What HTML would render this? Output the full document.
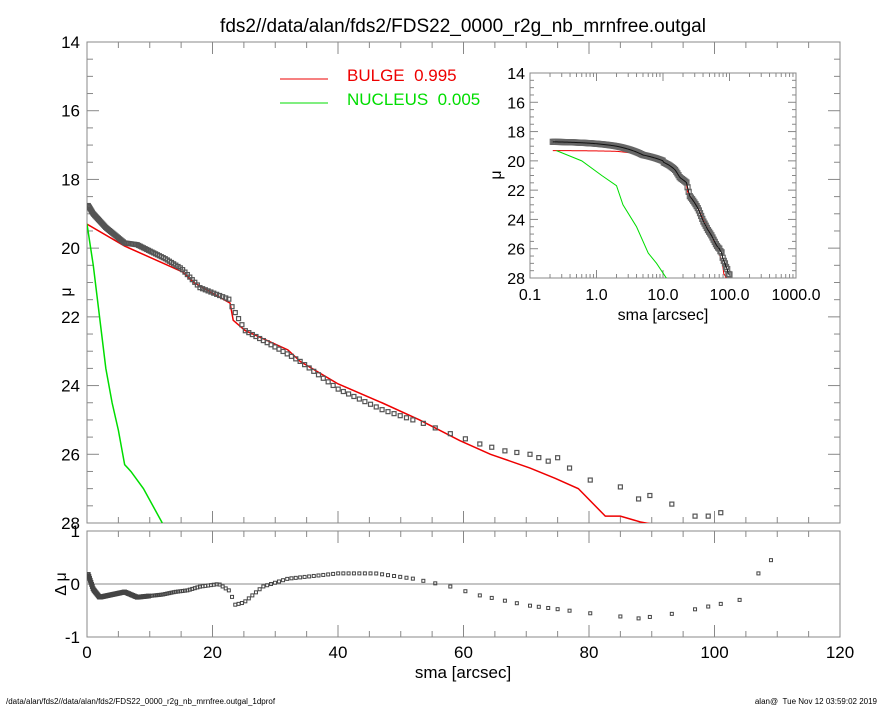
<!DOCTYPE html>
<html><head><meta charset="utf-8"><style>
body{margin:0;background:#fff}
svg{display:block;font-family:"Liberation Sans",sans-serif}
</style></head><body>
<svg id="s" width="885" height="708" viewBox="0 0 885 708" xmlns="http://www.w3.org/2000/svg"></svg>
<script>
const S=document.getElementById('s');let h='';
function add(x){h+=x;}
function interp(pts,x){if(x<=pts[0][0])return pts[0][1];for(let i=1;i<pts.length;i++){if(x<=pts[i][0]){const a=pts[i-1],b=pts[i];return a[1]+(b[1]-a[1])*(x-a[0])/(b[0]-a[0]);}}const a=pts[pts.length-2],b=pts[pts.length-1];return b[1]+(b[1]-a[1])*(x-b[0])/(b[0]-a[0]);}
const red=[[0,19.3],[6,19.94],[13.5,20.55],[15.3,20.7],[17,21.0],[22.8,21.6],[23.3,22.1],[25.2,22.4],[32,22.96],[34,23.3],[40,23.95],[47,24.5],[53,25.0],[59.4,25.6],[64.3,26.0],[70.6,26.4],[74.6,26.7],[78.3,27.0],[82.6,27.8],[85,27.8],[88.2,27.97],[92,28.1]];
const dat=[[0,18.7],[1,19.0],[3,19.4],[6,19.85],[8,19.9],[12.4,20.3],[15.1,20.6],[18,21.15],[22.8,21.5],[23.1,21.7],[25.2,22.4],[30.8,22.96],[34,23.3],[40,24.1],[47,24.7],[53.6,25.1],[57.9,25.4],[60.3,25.55],[62.6,25.7],[66.6,25.9],[70.6,26.0],[73.5,26.2],[75,26.1],[76.9,26.4],[80.2,26.75],[85,26.95],[87.9,27.3],[89.7,27.2],[93.2,27.45],[96.9,27.8],[99,27.8],[101,27.7]];
const res=[[0,0.25],[1,-0.1],[2,-0.25],[4,-0.2],[6,-0.15],[8,-0.25],[12,-0.2],[14,-0.15],[16,-0.12],[18,-0.05],[21,0],[23,-0.15],[23.3,-0.4],[25,-0.35],[28,-0.05],[32,0.1],[40,0.2],[46,0.2],[52,0.1],[58,-0.05],[62,-0.2],[70,-0.4],[80,-0.55],[88,-0.65],[94,-0.55],[100,-0.4],[104,-0.3],[107,0.2],[109,0.45]];
const grn=[[0,19.3],[1,20.5],[2,22],[3,23.5],[4,24.5],[5,25.3],[6,26.3],[7,26.5],[9,27],[12,28]];
const X=v=>87+v*(753/120), Y=m=>42+(m-14)*(481/14), R=r=>584-r*53;
let xs=[];let s=0.2;while(s<52){xs.push(s);s+=0.1+s*0.018;}
xs=xs.concat([53.6,55.5,57.9,60.3,62.6,64.5,66.6,68.5,70.6,72,73.5,75,76.9,80.2,85,87.9,89.7,93.2,96.9,99,101]);
const rxs=xs.concat([104,107,109]);
add('<rect x="87" y="42" width="753" height="481" fill="none" stroke="#888" stroke-width="1"/>');
for(let m=14;m<=28;m+=0.5){const y=Y(m),L=(m%2==0)?12:6;add(`<line x1="87" x2="${87+L}" y1="${y}" y2="${y}" stroke="#888"/><line x1="840" x2="${840-L}" y1="${y}" y2="${y}" stroke="#888"/>`);if(m%2==0)add(`<text x="80" y="${y+6}" font-size="17" text-anchor="end">${m}</text>`);}
for(let v=0;v<=120;v+=5){const x=X(v),L=(v%20==0)?12:6;add(`<line x1="${x}" x2="${x}" y1="42" y2="${42+L}" stroke="#888"/><line x1="${x}" x2="${x}" y1="523" y2="${523-L}" stroke="#888"/>`);}
add(`<text x="65" y="298" font-size="16" text-anchor="middle" transform="rotate(-90 65 292)">μ</text>`);
add('<defs><clipPath id="cm"><rect x="87" y="42" width="753" height="481"/></clipPath><clipPath id="ci"><rect x="530" y="73" width="266" height="205"/></clipPath><clipPath id="cr"><rect x="87" y="531" width="753" height="106"/></clipPath></defs>');
let g='<g clip-path="url(#cm)">';
g+=`<polyline fill="none" stroke="#e00" stroke-width="1.5" points="${red.map(p=>X(p[0])+','+Y(p[1])).join(' ')}"/>`;
g+=`<polyline fill="none" stroke="#0d0" stroke-width="1.5" points="${grn.map(p=>X(p[0])+','+Y(p[1])).join(' ')}"/>`;
xs.forEach(v=>{const m=interp(dat,v);if(m<28.1)g+=`<rect x="${X(v)-2}" y="${Y(m)-2}" width="4" height="4" fill="none" stroke="#555" stroke-width="1.2"/>`;});
g+='</g>';add(g);
add('<line x1="280" x2="328" y1="79" y2="79" stroke="#e00"/><text x="347" y="81" font-size="17" fill="#e00">BULGE&#160;&#160;0.995</text>');
add('<line x1="280" x2="328" y1="103" y2="103" stroke="#0d0"/><text x="347" y="105" font-size="17" fill="#0d0">NUCLEUS&#160;&#160;0.005</text>');
add('<rect x="87" y="531" width="753" height="106" fill="none" stroke="#888"/>');
add('<line x1="87" x2="840" y1="584" y2="584" stroke="#888"/>');
for(let v=0;v<=120;v+=5){const x=X(v),L=(v%20==0)?12:6;add(`<line x1="${x}" x2="${x}" y1="531" y2="${531+L}" stroke="#888"/><line x1="${x}" x2="${x}" y1="637" y2="${637-L}" stroke="#888"/>`);if(v%20==0)add(`<text x="${x}" y="658" font-size="17" text-anchor="middle">${v}</text>`);}
[[1,531],[0,584],[-1,637]].forEach(t=>add(`<text x="80" y="${t[1]+6}" font-size="17" text-anchor="end">${t[0]}</text>`));
add('<text x="60" y="590" font-size="16" text-anchor="middle" transform="rotate(-90 60 584)">Δ μ</text>');
g='<g clip-path="url(#cr)">';
rxs.forEach(v=>{const r=interp(res,v);g+=`<rect x="${X(v)-1.5}" y="${R(r)-1.5}" width="3" height="3" fill="none" stroke="#444" stroke-width="${v<10?1.8:1}"/>`;});
g+='</g>';add(g);
add('<text x="463" y="678" font-size="17" text-anchor="middle">sma [arcsec]</text>');
const IX=v=>530+(Math.log10(v)+1)*66.5, IY=m=>73+(m-14)*(205/14);
add('<rect x="530" y="73" width="266" height="205" fill="#fff" stroke="#888"/>');
for(let m=14;m<=28;m+=0.5){const y=IY(m),L=(m%2==0)?8:4;add(`<line x1="530" x2="${530+L}" y1="${y}" y2="${y}" stroke="#888"/><line x1="796" x2="${796-L}" y1="${y}" y2="${y}" stroke="#888"/>`);if(m%2==0)add(`<text x="525" y="${y+6}" font-size="16" text-anchor="end">${m}</text>`);}
for(let d=-1;d<3;d++)for(let k=1;k<10;k++){const x=530+(d+1+Math.log10(k))*66.5,L=k==1?8:4;add(`<line x1="${x}" x2="${x}" y1="73" y2="${73+L}" stroke="#888"/><line x1="${x}" x2="${x}" y1="278" y2="${278-L}" stroke="#888"/>`);}
['0.1','1.0','10.0','100.0','1000.0'].forEach((t,i)=>add(`<text x="${530+i*66.5}" y="300" font-size="16" text-anchor="middle">${t}</text>`));
add('<text x="663" y="320" font-size="16" text-anchor="middle">sma [arcsec]</text>');
add('<text x="495" y="181" font-size="16" text-anchor="middle" transform="rotate(-90 495 175)">μ</text>');
g='<g clip-path="url(#ci)">';
const ired=[[0.22,19.3],[2,19.35],[5,19.6],[10,20]];
const idat=v=>v<10?interp([[0.22,18.7],[2,19.0],[5,19.6],[10,20]],v):interp(dat,v);
const igrn=[[0.25,19.3],[0.6,20],[1.2,21],[2,21.7],[2.5,23],[4,24.5],[6,26.3],[8,27],[12,28.2]];
let ipts=[];for(let v=0.22;v<102;v*=1.04)ipts.push(v);
g+=`<polyline fill="none" stroke="#e00" stroke-width="1" points="${ipts.map(v=>IX(v)+','+IY(v<10?interp(ired,v):interp(red,v))).join(' ')}"/>`;
g+=`<polyline fill="none" stroke="#0d0" stroke-width="1" points="${igrn.map(p=>IX(p[0])+','+IY(p[1])).join(' ')}"/>`;
ipts.forEach(v=>{g+=`<rect x="${IX(v)-2.5}" y="${IY(idat(v))-2.5}" width="5" height="5" fill="none" stroke="#666" stroke-width="1.2"/>`;});
g+=`<polyline fill="none" stroke="#111" stroke-width="1" points="${ipts.map(v=>IX(v)+','+IY(idat(v))).join(' ')}"/>`;
g+='</g>';add(g);
add('<text x="463" y="32" font-size="19" text-anchor="middle">fds2//data/alan/fds2/FDS22_0000_r2g_nb_mrnfree.outgal</text>');
add('<text x="6" y="704" font-size="8">/data/alan/fds2//data/alan/fds2/FDS22_0000_r2g_nb_mrnfree.outgal_1dprof</text>');
add('<text x="877" y="704" font-size="8" text-anchor="end">alan@&#160;&#160;Tue Nov 12 03:59:02 2019</text>');
S.innerHTML=h;
</script>
</body></html>
